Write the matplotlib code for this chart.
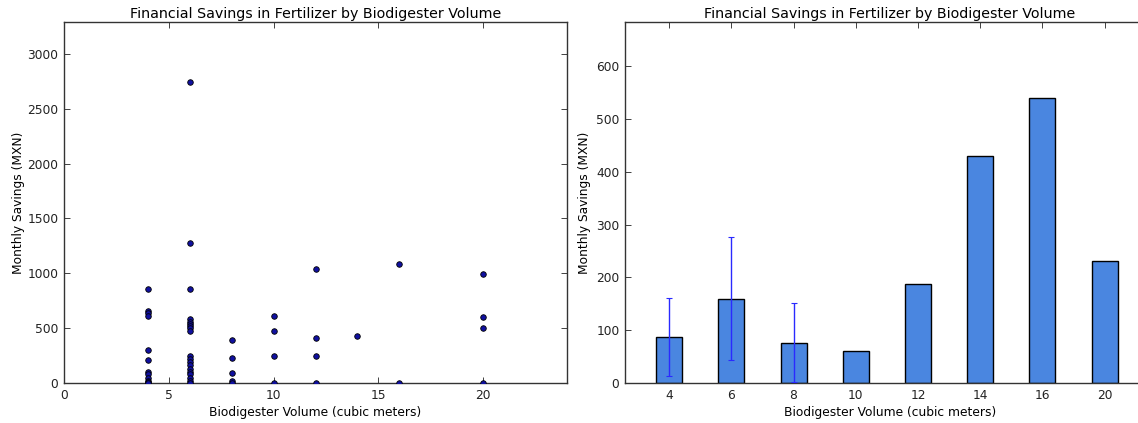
import matplotlib
matplotlib.use("Agg")
import matplotlib.pyplot as plt
import numpy as np

# Scatter data (left): biodigester volume vs monthly savings
scatter_volume = [4]*12 + [6]*19 + [8]*5 + [10]*4 + [12]*4 + [14] + [16]*2 + [20]*4
scatter_savings = [860, 660, 640, 610, 305, 210, 100, 80, 50, 20, 5, 0,
                   2740, 1280, 860, 580, 560, 540, 520, 500, 470, 250, 220, 190, 160, 130, 100, 80, 50, 20, 0,
                   390, 230, 90, 15, 0,
                   615, 470, 245, 0,
                   1040, 410, 248, 0,
                   427,
                   1080, 0,
                   995, 600, 497, 0]

# Bar data (right)
bar_labels = ["4", "6", "8", "10", "12", "14", "16", "20"]
bar_means = [88, 160, 76, 60, 188, 431, 540, 232]
bar_errs = [74, 117, 75, np.nan, np.nan, np.nan, np.nan, np.nan]

title = "Financial Savings in Fertilizer by Biodigester Volume"
xlabel = "Biodigester Volume (cubic meters)"
ylabel = "Monthly Savings (MXN)"

plt.rcParams['font.family'] = ['DejaVu Sans']
plt.rcParams['xtick.direction'] = 'in'
plt.rcParams['ytick.direction'] = 'in'
plt.rcParams['xtick.top'] = True
plt.rcParams['ytick.right'] = True

W, H = 1138, 423
fig = plt.figure(figsize=(W/100, H/100), dpi=100)
fig.patch.set_facecolor('white')

ax1 = fig.add_axes([64/W, 40/H, 503/W, 361/H])
ax2 = fig.add_axes([625/W, 40/H, 530/W, 361/H])

for ax in (ax1, ax2):
    for s in ax.spines.values():
        s.set_linewidth(1.0)
        s.set_color('#333333')
    ax.tick_params(labelsize=8.8, length=4, width=0.6, colors='#222222', pad=4)

ax1.scatter(scatter_volume, scatter_savings, s=16, c='#1010a0', edgecolors='black',
            linewidths=0.6, zorder=3)
ax1.set_xlim(0, 24)
ax1.set_ylim(0, 3290)
ax1.set_xticks([0, 5, 10, 15, 20])
ax1.set_yticks([0, 500, 1000, 1500, 2000, 2500, 3000])
ax1.set_title(title, fontsize=10.3, pad=3)
ax1.set_xlabel(xlabel, fontsize=8.8, labelpad=3)
ax1.set_ylabel(ylabel, fontsize=8.8, labelpad=2)

pos = np.arange(len(bar_labels))
ax2.bar(pos, bar_means, width=0.42, color='#4a86e0', edgecolor='black', linewidth=1.0,
        zorder=2)
ax2.errorbar(pos, bar_means, yerr=bar_errs, fmt='none', ecolor='#2a2aff', elinewidth=1.0,
             capsize=2, capthick=0.8, zorder=3)
ax2.set_xticks(pos)
ax2.set_xticklabels(bar_labels)
ax2.set_xlim(-0.71, -0.71 + 530/62.2)
ax2.set_ylim(0, 684)
ax2.set_yticks([0, 100, 200, 300, 400, 500, 600])
ax2.set_title(title, fontsize=10.3, pad=3)
ax2.set_xlabel(xlabel, fontsize=8.8, labelpad=3)
ax2.set_ylabel(ylabel, fontsize=8.8, labelpad=4)

fig.savefig("out.png", dpi=100, facecolor='white')
